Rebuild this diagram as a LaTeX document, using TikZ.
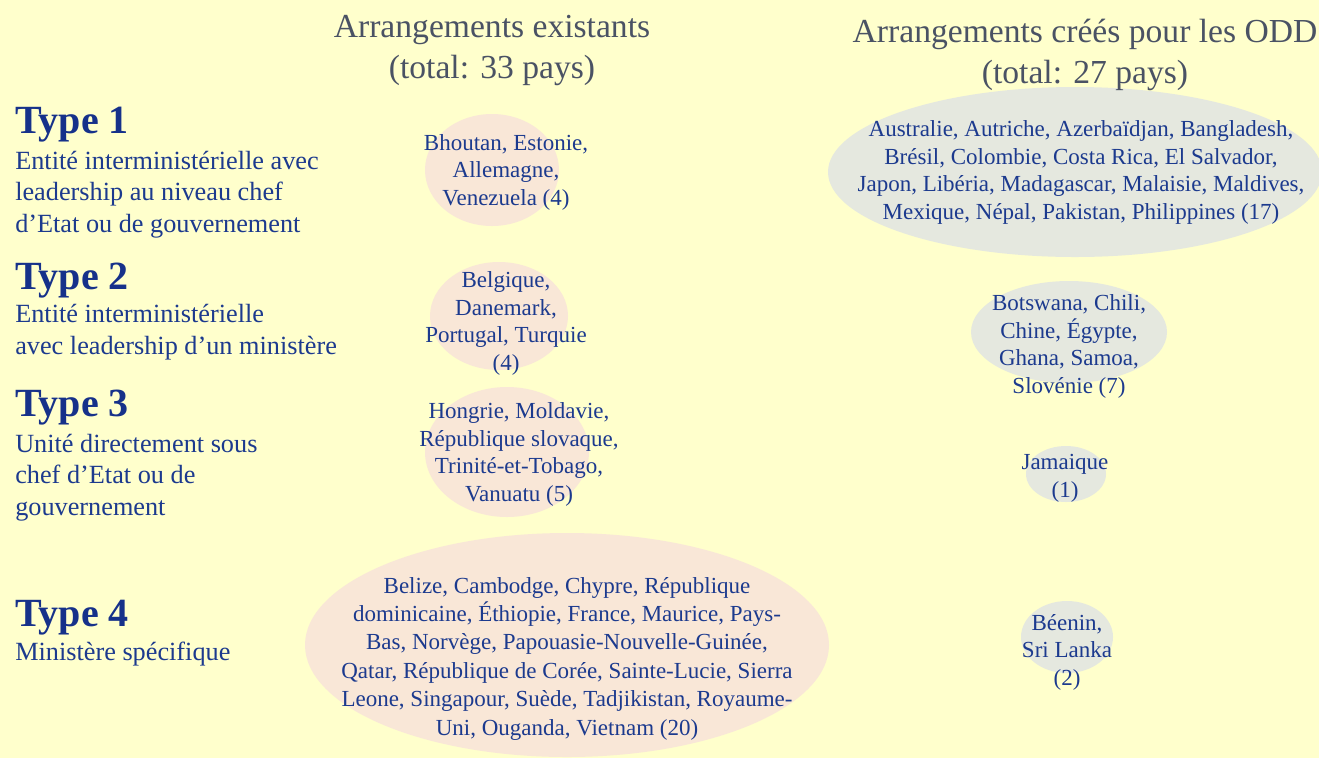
\documentclass[tikz,border=0pt]{standalone}
\usepackage{fontspec}
\setmainfont{Liberation Serif}
\usetikzlibrary{shapes.geometric}
\definecolor{bgyellow}{HTML}{FFFFCC}
\definecolor{pinkfill}{HTML}{F9E7D7}
\definecolor{grayfill}{HTML}{E5E8DF}
\definecolor{txtblue}{HTML}{1C3A8E}
\definecolor{headblue}{HTML}{16318A}
\definecolor{titlegray}{HTML}{4A5264}
\tikzset{
  blob/.style={ellipse, draw=none, inner sep=0pt},
  pinkblob/.style={blob, fill=pinkfill},
  grayblob/.style={blob, fill=grayfill},
  coltitle/.style={anchor=base, align=center, text=titlegray, inner sep=0pt,
    font=\fontsize{25.2}{30.75}\selectfont},
  typehead/.style={anchor=base west, inner sep=0pt, text=headblue,
    font=\fontsize{30}{34}\selectfont\bfseries},
  typedesc/.style={anchor=base west, align=left, inner sep=0pt, text=txtblue,
    font=\fontsize{19.7}{23.6}\selectfont},
  countries/.style={anchor=base, align=center, inner sep=0pt, text=txtblue,
    font=\fontsize{17.25}{20.6}\selectfont},
}
\begin{document}
\begin{tikzpicture}[x=0.75pt, y=-0.75pt]
\fill[bgyellow] (0,0) rectangle (1319,758);
\useasboundingbox (0,0) rectangle (1319,758);
\clip (0,0) rectangle (1319,758);

% ellipses
\node[pinkblob, minimum width=134*0.75pt, minimum height=112*0.75pt] (e1) at (492,170) {};
\node[pinkblob, minimum width=138*0.75pt, minimum height=108*0.75pt] (e2) at (499,316) {};
\node[pinkblob, minimum width=164*0.75pt, minimum height=130*0.75pt] (e3) at (507,452) {};
\node[pinkblob, minimum width=524*0.75pt, minimum height=224*0.75pt] (e4) at (567,645) {};
\node[grayblob, minimum width=494*0.75pt, minimum height=170*0.75pt] (e5) at (1075,172) {};
\node[grayblob, minimum width=196*0.75pt, minimum height=102*0.75pt] (e6) at (1069,332) {};
\node[grayblob, minimum width=80*0.75pt, minimum height=56*0.75pt] (e7) at (1066,474) {};
\node[grayblob, minimum width=92*0.75pt, minimum height=72*0.75pt] (e8) at (1067,637) {};

% column titles (base anchor = baseline of last line)
\node[coltitle] (t1) at (492,78) {Arrangements existants\\(total: 33 pays)};
\node[coltitle] (t2) at (1085,83) {Arrangements créés pour les ODD\\(total: 27 pays)};

% type labels
\node[typehead] (h1) at (15,133) {Type 1};
\node[typedesc] (d1) at (15,232) {Entité interministérielle avec\\leadership au niveau chef\\d’Etat ou de gouvernement};
\node[typehead] (h2) at (15,289) {Type 2};
\node[typedesc] (d2) at (15,354) {Entité interministérielle\\avec leadership d’un ministère};
\node[typehead] (h3) at (15,416) {Type 3};
\node[typedesc] (d3) at (15,515) {Unité directement sous\\chef d’Etat ou de\\gouvernement};
\node[typehead] (h4) at (15,626) {Type 4};
\node[typedesc] (d4) at (15,660) {Ministère spécifique};

% countries, existing
\node[countries] (c1) at (506,205) {Bhoutan, Estonie,\\Allemagne,\\Venezuela (4)};
\node[countries] (c2) at (506,370) {Belgique,\\Danemark,\\Portugal, Turquie\\(4)};
\node[countries] (c3) at (519,501) {Hongrie, Moldavie,\\République slovaque,\\Trinité-et-Tobago,\\Vanuatu (5)};
\node[countries, font=\fontsize{17.25}{21.3}\selectfont] (c4) at (567,735) {Belize, Cambodge, Chypre, République\\dominicaine, Éthiopie, France, Maurice, Pays-\\Bas, Norvège, Papouasie-Nouvelle-Guinée,\\Qatar, République de Corée, Sainte-Lucie, Sierra\\Leone, Singapour, Suède, Tadjikistan, Royaume-\\Uni, Ouganda, Vietnam (20)};

% countries, created for SDGs
\node[countries] (c5) at (1081,219) {Australie, Autriche, Azerbaïdjan, Bangladesh,\\Brésil, Colombie, Costa Rica, El Salvador,\\Japon, Libéria, Madagascar, Malaisie, Maldives,\\Mexique, Népal, Pakistan, Philippines (17)};
\node[countries] (c6) at (1069,393) {Botswana, Chili,\\Chine, Égypte,\\Ghana, Samoa,\\Slovénie (7)};
\node[countries] (c7) at (1065,497) {Jamaique\\(1)};
\node[countries] (c8) at (1067,685) {Béenin,\\Sri Lanka\\(2)};
\end{tikzpicture}
\end{document}
